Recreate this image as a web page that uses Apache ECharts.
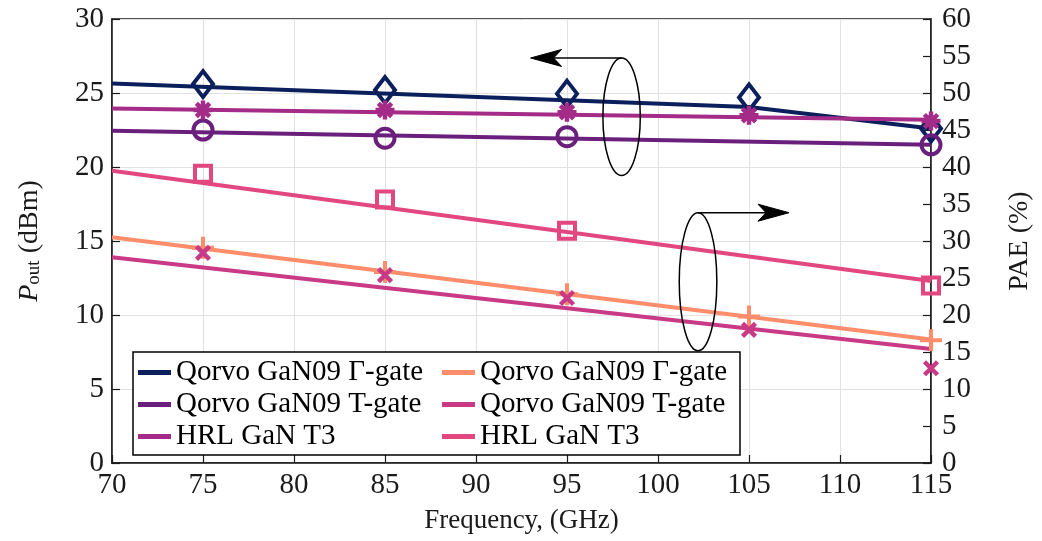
<!DOCTYPE html>
<html>
<head>
<meta charset="utf-8">
<script src="https://cdn.jsdelivr.net/npm/echarts@6/dist/echarts.min.js"></script>
<style>
  html, body { margin: 0; padding: 0; background: #fff; }
  #chart { width: 1042px; height: 541px; }
</style>
</head>
<body>
<div id="chart"></div>
<script>
// Measured points (frequency in GHz)
const markerFreq = [75, 85, 95, 105, 115];
const sparseFreq = [75, 85, 95, 115];

// Output power, dBm (left axis)
const qorvoGammaPout = [25.6, 25.2, 24.95, 24.7, 22.6];
const qorvoTPout = [22.5, 21.95, 22.05, 21.5];          // at sparseFreq
const hrlPout = [23.85, 23.85, 23.7, 23.5, 23.1];

// Power-added efficiency, % (right axis)
const qorvoGammaPae = [29.1, 25.8, 22.8, 19.8, 16.6];
const qorvoTPae = [28.4, 25.4, 22.3, 18.0, 12.8];
const hrlPae = [39.1, 35.6, 31.4, 24.0];                 // at sparseFreq

// Trend lines
const qorvoGammaPoutFitFreq = [70, 105, 115];
const qorvoGammaPoutFit = [25.65, 24.05, 22.6];
const fitFreq = [70, 115];
const qorvoTPoutFit = [22.45, 21.5];
const hrlPoutFit = [23.95, 23.2];
const qorvoGammaPaeFit = [30.5, 16.7];
const qorvoTPaeFit = [27.8, 15.4];
const hrlPaeFit = [39.5, 24.6];

const legendNames = ['Qorvo GaN09 \u0393-gate', 'Qorvo GaN09 T-gate', 'HRL GaN T3'];

const FONT = "'Liberation Serif', 'Times New Roman', serif";
const INK = '#1a1a1a';
const C = {
  navy: '#0b1f5c',
  purple: '#6b1f7c',
  magenta: '#a52b88',
  orange: '#fd8d6b',
  rose: '#c93a86',
  pink: '#e2487f'
};

const SYM = {
  plus: 'path://M0,-10L0,10M-10,0L10,0',
  cross: 'path://M-10,-10L10,10M-10,10L10,-10',
  star: 'path://M0,-10L0,10M-10,0L10,0M-7,-7L7,7M-7,7L7,-7'
};

const zip = (xs, ys) => xs.map((x, i) => [x, ys[i]]);

function fitLine(name, color, xs, ys, yAxisIndex) {
  return {
    name: name, type: 'line', yAxisIndex: yAxisIndex, color: color,
    data: zip(xs, ys), symbol: 'none', showSymbol: false,
    lineStyle: { width: 4, color: color }, z: 2, silent: true, animation: false
  };
}
function markers(color, xs, ys, yAxisIndex, symbol, size, width) {
  return {
    type: 'scatter', yAxisIndex: yAxisIndex, data: zip(xs, ys),
    symbol: symbol, symbolSize: size,
    itemStyle: { color: 'none', borderColor: color, borderWidth: width || 4, opacity: 1 },
    z: 3, silent: true, animation: false
  };
}

const chart = echarts.init(document.getElementById('chart'), null, { renderer: 'canvas' });

const axisLine = { show: true, lineStyle: { color: INK, width: 1.5 } };
const tickStyle = { show: true, inside: true, length: 8, lineStyle: { color: INK, width: 1.2 } };
const labelStyle = { fontFamily: FONT, fontSize: 29, color: INK };

chart.setOption({
  animation: false,
  backgroundColor: '#fff',
  grid: { left: 112, right: 109, top: 19, bottom: 78, show: true, borderColor: INK, borderWidth: 1.5, backgroundColor: 'transparent' },
  xAxis: {
    type: 'value', min: 70, max: 115, interval: 5,
    axisLine: axisLine, axisTick: tickStyle,
    axisLabel: Object.assign({ margin: 8 }, labelStyle),
    splitLine: { show: true, lineStyle: { color: '#e2e2e2', width: 1 } },
    name: 'Frequency, (GHz)', nameLocation: 'middle', nameGap: 44,
    nameTextStyle: { fontFamily: FONT, fontSize: 27, color: INK }
  },
  yAxis: [
    {
      type: 'value', min: 0, max: 30, interval: 5, position: 'left',
      axisLine: axisLine, axisTick: tickStyle,
      axisLabel: Object.assign({ margin: 8 }, labelStyle),
      splitLine: { show: true, lineStyle: { color: '#e2e2e2', width: 1 } },
      name: '{p|P}{sub|out} (dBm)', nameLocation: 'middle', nameRotate: 90, nameGap: 68,
      nameTextStyle: {
        fontFamily: FONT, fontSize: 28, color: INK,
        rich: {
          p: { fontFamily: FONT, fontSize: 28, fontStyle: 'italic', color: INK },
          sub: { fontFamily: FONT, fontSize: 19, color: INK, verticalAlign: 'bottom', padding: [10, 0, 0, 0] }
        }
      }
    },
    {
      type: 'value', min: 0, max: 60, interval: 5, position: 'right',
      axisLine: axisLine, axisTick: tickStyle,
      axisLabel: Object.assign({ margin: 11 }, labelStyle),
      splitLine: { show: false },
      name: 'PAE (%)', nameLocation: 'middle', nameRotate: 90, nameGap: 75,
      nameTextStyle: { fontFamily: FONT, fontSize: 28, color: INK }
    }
  ],
  legend: [
    {
      orient: 'vertical', left: 138, top: 358, padding: 0, itemGap: 3,
      icon: 'rect', itemWidth: 33, itemHeight: 5, selectedMode: false,
      data: legendNames,
      textStyle: { fontFamily: FONT, fontSize: 29, color: '#000', lineHeight: 29 }
    },
    {
      orient: 'vertical', left: 442, top: 358, padding: 0, itemGap: 3,
      icon: 'rect', itemWidth: 33, itemHeight: 5, selectedMode: false,
      data: legendNames.map(n => n + ' PAE'),
      formatter: n => n.replace(' PAE', ''),
      textStyle: { fontFamily: FONT, fontSize: 29, color: '#000', lineHeight: 29 }
    }
  ],
  series: [
    fitLine(legendNames[0], C.navy, qorvoGammaPoutFitFreq, qorvoGammaPoutFit, 0),
    fitLine(legendNames[1], C.purple, fitFreq, qorvoTPoutFit, 0),
    fitLine(legendNames[2], C.magenta, fitFreq, hrlPoutFit, 0),
    fitLine(legendNames[0] + ' PAE', C.orange, fitFreq, qorvoGammaPaeFit, 1),
    fitLine(legendNames[1] + ' PAE', C.rose, fitFreq, qorvoTPaeFit, 1),
    fitLine(legendNames[2] + ' PAE', C.pink, fitFreq, hrlPaeFit, 1),

    markers(C.navy, markerFreq, qorvoGammaPout, 0, 'diamond', [20, 26]),
    markers(C.purple, sparseFreq, qorvoTPout, 0, 'circle', 19),
    markers(C.magenta, markerFreq, hrlPout, 0, SYM.star, 19, 4.5),
    markers(C.orange, markerFreq, qorvoGammaPae, 1, SYM.plus, 22),
    markers(C.rose, markerFreq, qorvoTPae, 1, SYM.cross, 13, 4.5),
    markers(C.pink, sparseFreq, hrlPae, 1, 'rect', 16)
  ]
});

// Axis-group callouts: ellipse around each bundle with an arrow to its axis
function callout(center, yAxisIndex, rx, ry, dir) {
  const p = chart.convertToPixel({ xAxisIndex: 0, yAxisIndex: yAxisIndex }, center);
  const cx = p[0], cy = p[1], topY = cy - ry;
  const tipX = cx + dir * 91;
  const backX = tipX - dir * 31, notchX = tipX - dir * 23;
  const lineStyle = { fill: 'none', stroke: '#000', lineWidth: 1.5 };
  return [
    { type: 'ellipse', z: 5, shape: { cx: cx, cy: cy, rx: rx, ry: ry }, style: lineStyle },
    { type: 'polyline', z: 5, shape: { points: [[cx, topY], [notchX, topY]] }, style: lineStyle },
    { type: 'polygon', z: 5, shape: { points: [[tipX, topY], [backX, topY - 8.5], [notchX, topY], [backX, topY + 8.5]] },
      style: { fill: '#000', stroke: '#000', lineWidth: 1 } }
  ];
}

chart.setOption({
  graphic: [
    { type: 'rect', z: 3, shape: { x: 133, y: 352, width: 607, height: 103 },
      style: { fill: '#fff', stroke: '#000', lineWidth: 1.5 } }
  ].concat(callout([98.0, 23.4], 0, 18.7, 58.7, -1))
   .concat(callout([102.2, 24.5], 1, 18.8, 69, 1))
});
</script>
</body>
</html>
